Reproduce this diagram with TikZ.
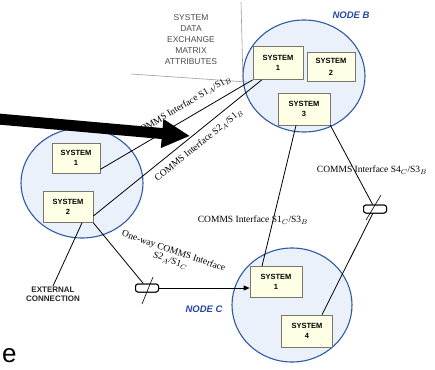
\documentclass[tikz,border=0pt]{standalone}
\usepackage{fontspec}
\setmainfont{Liberation Serif}
\setsansfont{Liberation Sans}
\usetikzlibrary{arrows.meta,calc,shapes.geometric}
\definecolor{nodefill}{HTML}{EAF1FB}
\definecolor{nodeedge}{HTML}{2E5AA6}
\definecolor{boxfill}{HTML}{FFFFE6}
\definecolor{boxedge}{HTML}{77776E}
\definecolor{nodetext}{HTML}{2548A0}
\definecolor{matrixgray}{HTML}{9A9A9A}
\begin{document}
\begin{tikzpicture}[x=1pt,y=-1pt,
  netnode/.style={ellipse, draw=nodeedge, line width=1.1pt, fill=nodefill, inner sep=0pt},
  sysbox/.style={draw=boxedge, fill=boxfill, line width=0.7pt, inner sep=0pt, align=center,
    font=\sffamily\bfseries\fontsize{7.5}{10}\selectfont},
  conn/.style={draw=black, line width=0.8pt},
  comlabel/.style={font=\fontsize{9.5}{10}\selectfont, inner sep=1pt},
  nodelabel/.style={text=nodetext, font=\sffamily\bfseries\itshape\fontsize{9.5}{10}\selectfont},
  linkbox/.style={draw=black, line width=1pt, fill=white, rounded corners=2.5pt,
    minimum width=23pt, minimum height=8pt, inner sep=0pt},
  tick/.style={draw=black, line width=0.6pt},
  smalltext/.style={font=\sffamily\bfseries\fontsize{8}{9}\selectfont, align=center, text=black!85}
]
\useasboundingbox (0,0) rectangle (435,369);

% network nodes
\node[netnode, minimum width=122pt, minimum height=110pt] (nA) at (82,183) {};
\node[netnode, minimum width=122pt, minimum height=112pt] (nB) at (304,76) {};
\node[netnode, minimum width=120pt, minimum height=114pt] (nC) at (292,305) {};

\node[nodelabel] (labB) at (351,15) {NODE B};
\node[nodelabel] (labC) at (204,309) {NODE C};

% matrix attributes annotation
\coordinate (g1) at (131,74);
\coordinate (g2) at (247,82);
\coordinate (g3) at (241,2);
\coordinate (g4) at (243,80);
\draw[matrixgray, line width=0.6pt] (g1) -- (g2);
\draw[matrixgray, line width=0.6pt] (g3) -- (g4);
\node[align=center, text=black!70, font=\sffamily\fontsize{8.5}{11}\selectfont] (matrix) at (191,40)
  {SYSTEM\\DATA\\EXCHANGE\\MATRIX\\ATTRIBUTES};

% systems
\node[sysbox, minimum width=48pt, minimum height=30pt] (A1) at (76,158) {SYSTEM\\1};
\node[sysbox, minimum width=50pt, minimum height=31pt] (A2) at (68,207) {SYSTEM\\2};
\node[sysbox, minimum width=50pt, minimum height=33pt] (B1) at (278,63) {SYSTEM\\1};
\node[sysbox, minimum width=48pt, minimum height=29pt] (B2) at (331,67) {SYSTEM\\[2pt]2};
\node[sysbox, minimum width=52pt, minimum height=32pt] (B3) at (304,109) {SYSTEM\\3};
\node[sysbox, minimum width=52pt, minimum height=31pt] (C1) at (276,282) {SYSTEM\\1};
\node[sysbox, minimum width=51pt, minimum height=32pt] (C4) at (307,331) {SYSTEM\\4};

% link symbols
\node[linkbox] (S1) at (147,288) {};
\node[linkbox] (S2) at (375,209) {};

% connections
\draw[conn] (A1.-25) -- (B1.south west);
\draw[conn] ($(A2.east)+(0,9)$) -- ($(B1.south west)!0.18!(B1.south east)$);
\draw[conn] ($(B3.south)+(-8,0)$) -- ($(C1.north)+(-14,0)$);
\draw[conn] (B3.south east) -- (S2);
\draw[conn] (S2) -- ($(C4.north)+(15,0)$);
\draw[conn] (A2.south east) -- (S1);
\draw[conn, -{Triangle[length=6pt,width=5pt]}] (S1.east) -- (S1.east -| C1.west);

\coordinate (ext) at (53,286);
\draw[conn] ($(A2.south)+(14,0)$) -- (ext);
\node[smalltext, anchor=north, inner sep=1pt] (extlab) at (ext) {EXTERNAL\\CONNECTION};

% redraw link symbols above lines
\node[linkbox] at (S1) {};
\node[linkbox] at (S2) {};
\draw[tick] ($(S1)+(6,-11)$) -- ($(S1)+(-5,16)$);
\draw[tick] ($(S2)+(6,-14)$) -- ($(S2)+(-9,11)$);

% labels
\node[comlabel, rotate=30.6] (L1) at (183,106) {COMMS Interface S1$_A$/S1$_B$};
\node[comlabel, rotate=38.8] (L2) at (199,145) {COMMS Interface S2$_A$/S1$_B$};
\node[comlabel] (L3) at (253,220) {COMMS Interface S1$_C$/S3$_B$};
\node[comlabel] (L4) at (372,170) {COMMS Interface S4$_C$/S3$_B$};
\node[comlabel, rotate=-19, align=center] (L5) at (172,256) {One-way COMMS Interface\\S2$_A$/S1$_C$};

% big arrow
\coordinate (ar0) at (-2,119);
\coordinate (ar1) at (190,136);
\draw[line width=11pt, -{Triangle[length=28pt,width=27pt]}] (ar0) -- (ar1);

% title remnant
\node[anchor=south west, inner sep=0pt, font=\sffamily\fontsize{26}{26}\selectfont] (title) at (2,363) {e};
\end{tikzpicture}
\end{document}
